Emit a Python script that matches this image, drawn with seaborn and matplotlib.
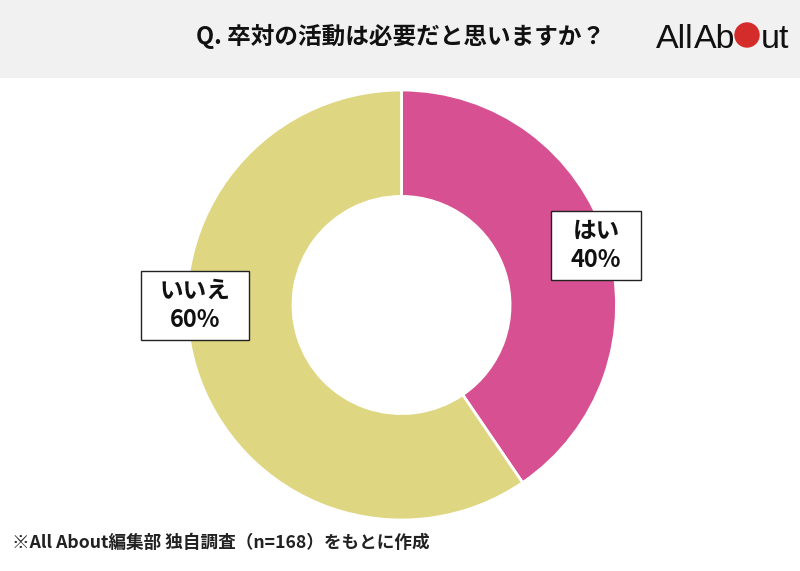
#!/usr/bin/env python3
"""Donut chart of survey answers with header band and logo."""

import matplotlib
matplotlib.use("Agg")
import matplotlib.pyplot as plt
from matplotlib.patches import Circle, Rectangle
import seaborn as sns

# Data
answers = ["はい", "いいえ"]
counts = [68, 100]
percent_labels = [40, 60]
slice_colors = ["#d65092", "#dfd681"]
title_text = "Q. 卒対の活動は必要だと思いますか？"
source_text = "※All About編集部 独自調査（n=168）をもとに作成"

W, H = 800, 571

sns.set_theme(style="white")
plt.rcParams["font.family"] = ["Noto Sans CJK JP", "DejaVu Sans"]


def px(x, y):
    """Reference pixel (origin top left) to figure fraction."""
    return x / W, 1 - y / H


fig = plt.figure(figsize=(W / 100, H / 100), dpi=100, facecolor="white")

# Header band
fig.add_artist(Rectangle((0, 1 - 78 / H), 1, 78 / H, transform=fig.transFigure,
                         facecolor="#f1f1f1", edgecolor="none"))
fig.text(*px(400.5, 36), title_text, ha="center", va="center", fontsize=17,
         fontweight="bold", color="#111111")

# Logo
logo_font = ["Liberation Sans", "DejaVu Sans"]
for word, x in [("All", 656), ("Ab", 694), ("ut", 761)]:
    fig.text(*px(x, 48), word, ha="left", va="baseline", fontsize=24.5,
             family=logo_font, color="#111111")
fig.add_artist(Circle((747, H - 35), 12.7, transform=None, facecolor="#d42b2b",
                      edgecolor="none"))

# Donut
cx, cy, r = 401.5, 305, 215
ax = fig.add_axes([(cx - r) / W, 1 - (cy + r) / H, 2 * r / W, 2 * r / H])
ax.pie(counts, colors=slice_colors, startangle=90, counterclock=False, radius=1,
       wedgeprops=dict(width=0.495, edgecolor="white", linewidth=2))
ax.set_xlim(-1, 1)
ax.set_ylim(-1, 1)
ax.set_aspect("equal")

# Labels
label_boxes = [(551, 211, 90, 69), (141, 271, 108, 69)]
for name, val, (x, y, w, h) in zip(answers, percent_labels, label_boxes):
    fig.add_artist(Rectangle((x / W, 1 - (y + h) / H), w / W, h / H,
                             transform=fig.transFigure, facecolor="white",
                             edgecolor="#222222", linewidth=1))
    fig.text(*px(x + w / 2, y + h / 2), f"{name}\n{val}%", ha="center", va="center",
             fontsize=17, fontweight="bold", color="#111111", linespacing=1.25)

# Source note
fig.text(*px(12, 543), source_text, ha="left", va="center", fontsize=12.7,
         fontweight="bold", color="#222222")

fig.savefig("out.png", dpi=100)
plt.close(fig)
